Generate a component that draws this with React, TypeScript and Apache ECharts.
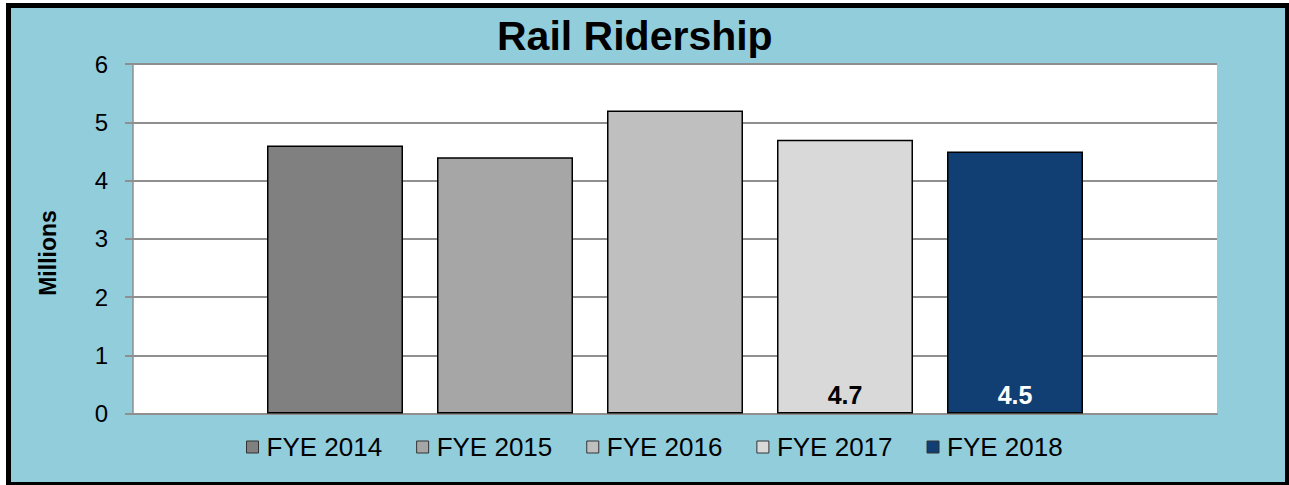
import React, { useEffect, useRef } from "react";
import * as echarts from "echarts";

const titleText = "Rail Ridership";
const yAxisName = "Millions";
const categories = [""];
const seriesNames = ["FYE 2014", "FYE 2015", "FYE 2016", "FYE 2017", "FYE 2018"];
const ridership = [4.6, 4.4, 5.2, 4.7, 4.5];
const showValueLabel = [false, false, false, true, true];
const yMin = 0;
const yMax = 6;
const yInterval = 1;

const barColors = ["#808080", "#A6A6A6", "#BFBFBF", "#D9D9D9", "#123F73"];
const labelColors = ["#000", "#000", "#000", "#000", "#fff"];
const FONT = '"Liberation Sans", Arial, sans-serif';

export default function App() {
  const ref = useRef<HTMLDivElement>(null);
  useEffect(() => {
    if (!ref.current) return;
    const chart = echarts.init(ref.current, undefined, { renderer: "svg" });
    const series = seriesNames.map((name, i) => ({
      name,
      type: "bar",
      data: [ridership[i]],
      barWidth: 136,
      barGap: "25%",
      itemStyle: { color: barColors[i], borderColor: "#000", borderWidth: 1.5 },
      label: {
        show: showValueLabel[i],
        position: "insideBottom",
        distance: 6,
        formatter: (p: any) => Number(p.value).toFixed(1),
        color: labelColors[i],
        fontFamily: FONT,
        fontWeight: "bold",
        fontSize: 25,
      },
    }));
    chart.setOption({
      animation: false,
      graphic: [
        {
          type: "rect",
          z: -10,
          shape: { x: 8.5, y: 5.5, width: 1279, height: 479 },
          style: { fill: "#92CDDC", stroke: "#000", lineWidth: 5 },
        },
        {
          type: "text",
          x: 48,
          y: 253,
          rotation: Math.PI / 2,
          style: {
            text: yAxisName,
            font: `bold 23px ${FONT}`,
            fill: "#000",
            textAlign: "center",
            textVerticalAlign: "middle",
          },
        },
      ],
      title: {
        text: titleText,
        left: 497,
        top: 15,
        padding: 0,
        textStyle: { fontFamily: FONT, fontWeight: "bold", fontSize: 41, color: "#000" },
      },
      legend: {
        data: seriesNames,
        left: 246,
        top: 434,
        padding: 0,
        itemWidth: 12,
        itemHeight: 12,
        itemGap: 34,
        icon: "rect",
        itemStyle: { borderColor: "#333", borderWidth: 1 },
        textStyle: { fontFamily: FONT, fontSize: 26, color: "#000", padding: [0, 0, 0, 3] },
      },
      grid: {
        left: 133,
        right: 72,
        top: 64,
        bottom: 71.5,
        show: true,
        backgroundColor: "#fff",
        borderWidth: 0,
      },
      xAxis: {
        type: "category",
        data: categories,
        axisLine: { show: true, lineStyle: { color: "#8f8f8f", width: 2 } },
        axisTick: { show: false },
        axisLabel: { show: false },
      },
      yAxis: {
        type: "value",
        min: yMin,
        max: yMax,
        interval: yInterval,
        axisLine: { show: true, lineStyle: { color: "#8f8f8f", width: 1.5 } },
        axisTick: { show: true, length: 8, lineStyle: { color: "#8f8f8f", width: 2 } },
        axisLabel: { fontFamily: FONT, fontSize: 24, color: "#000", margin: 25 },
        splitLine: { show: true, lineStyle: { color: "#8f8f8f", width: 2 } },
      },
      series,
    });
    return () => chart.dispose();
  }, []);
  return (
    <div
      style={{ position: "fixed", left: 0, top: 0, width: 1289, height: 485, background: "#fff" }}
    >
      <div ref={ref} style={{ width: 1289, height: 485 }} />
    </div>
  );
}
